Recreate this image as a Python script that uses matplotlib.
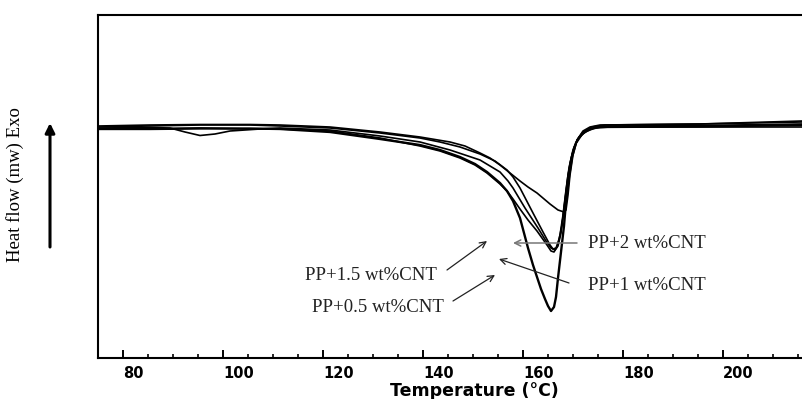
import matplotlib
matplotlib.use('Agg')
import matplotlib.pyplot as plt
from matplotlib.ticker import MultipleLocator

# ---- data (temperature in °C, heat flow in arbitrary units) ----
temp_pp05 = [75.0, 85.4, 95.4, 105.4, 111.4, 121.4, 131.4, 135.4, 139.4, 143.4, 147.4, 150.4,
             152.8, 155.4, 156.8, 158.0, 159.4, 160.2, 161.0, 162.0, 162.8, 163.6, 164.4, 165.0,
             165.6, 166.2, 166.6, 167.0, 167.6, 168.2, 168.6, 169.2, 169.8, 170.6, 171.8, 173.4,
             175.4, 195.4, 215.8]
hf_pp05 = [22.9, 22.9, 22.95, 22.95, 22.9, 22.6, 21.9, 21.6, 21.3, 20.8, 20.1, 19.4,
           18.6, 17.5, 16.7, 15.7, 14.0, 12.5, 11.0, 9.3, 8.1, 6.9, 5.9, 5.2,
           4.7, 5.1, 6.1, 8.0, 10.6, 13.2, 15.6, 18.1, 20.1, 21.5, 22.4, 22.9,
           23.1, 23.15, 23.3]

temp_pp1 = [75.0, 85.4, 95.4, 105.4, 111.4, 121.4, 131.4, 139.4, 143.4, 147.4, 150.4, 152.8,
            155.4, 156.8, 158.0, 159.4, 161.0, 162.8, 164.8, 165.6, 166.2, 166.8, 167.4, 168.0,
            168.6, 169.2, 170.0, 171.0, 172.4, 174.4, 177.4, 195.4, 215.8]
hf_pp1 = [22.9, 22.9, 23.0, 22.9, 22.9, 22.7, 22.0, 21.2, 20.7, 20.0, 19.3, 18.5,
          17.4, 16.7, 15.9, 14.9, 13.8, 12.7, 11.3, 10.7, 10.6, 11.1, 12.3, 14.3,
          16.8, 19.0, 20.8, 21.9, 22.6, 23.0, 23.1, 23.1, 23.1]

temp_pp15 = [75.0, 85.4, 95.4, 105.4, 111.4, 121.4, 131.4, 139.4, 143.4, 147.4, 151.4, 154.4,
             156.8, 158.0, 159.4, 162.0, 164.0, 165.4, 166.0, 166.6, 167.2, 167.8, 168.4, 169.0,
             169.8, 170.8, 172.0, 173.8, 176.4, 195.4, 215.8]
hf_pp15 = [23.1, 23.2, 23.3, 23.3, 23.2, 23.0, 22.5, 22.0, 21.6, 21.1, 20.4, 19.7,
           18.8, 18.1, 17.0, 14.5, 12.6, 11.3, 10.9, 11.0, 11.8, 13.3, 15.8, 18.3,
           20.3, 21.8, 22.6, 23.1, 23.3, 23.4, 23.6]

temp_pp = [75.0, 85.4, 89.4, 92.4, 95.4, 98.4, 101.4, 107.4, 111.4, 121.4, 131.4, 139.4,
           145.4, 148.4, 151.4, 153.4, 155.4, 157.0, 158.0, 160.4, 163.0, 164.6, 165.6, 166.4,
           167.0, 167.6, 168.2, 168.8, 169.4, 170.2, 171.2, 172.6, 174.6, 177.4, 195.4, 215.8]
hf_pp = [23.0, 23.05, 23.0, 22.6, 22.25, 22.4, 22.7, 22.9, 23.0, 22.8, 22.2, 21.6,
         20.8, 20.3, 19.8, 19.2, 18.6, 17.7, 17.0, 15.0, 13.0, 11.7, 11.0, 10.8,
         11.2, 12.5, 14.8, 17.3, 19.5, 21.1, 22.1, 22.7, 23.1, 23.2, 23.25, 23.4]

temp_pp2 = [75.0, 85.4, 95.4, 105.4, 111.4, 121.4, 131.4, 139.4, 145.4, 148.4, 151.4, 153.4,
            155.4, 157.4, 159.4, 161.0, 162.8, 165.4, 167.0, 168.2, 168.6, 169.0, 169.4, 170.0,
            170.8, 172.0, 173.4, 175.4, 195.4, 215.8]
hf_pp2 = [23.2, 23.3, 23.35, 23.35, 23.3, 23.1, 22.6, 22.1, 21.6, 21.2, 20.5, 20.0,
          19.3, 18.5, 17.7, 17.1, 16.5, 15.4, 14.8, 14.6, 14.8, 16.3, 18.3, 20.3,
          21.8, 22.7, 23.1, 23.3, 23.4, 23.7]

tick_values = [80, 100, 120, 140, 160, 180, 200]
tick_labels = ['80', '100', '120', '140', '160', '180', '200']

labels = ['PP+2 wt%CNT', 'PP+1 wt%CNT', 'PP+1.5 wt%CNT', 'PP+0.5 wt%CNT']

# ---- figure ----
fig = plt.figure(figsize=(8.02, 3.99), dpi=100)
ax = fig.add_axes([98 / 802, 41 / 399, 704 / 802, 343 / 399])

for t, h, lw in [(temp_pp05, hf_pp05, 1.7), (temp_pp1, hf_pp1, 1.2), (temp_pp15, hf_pp15, 1.2),
                 (temp_pp, hf_pp, 1.2), (temp_pp2, hf_pp2, 1.2)]:
    ax.plot(t, h, color='black', lw=lw, solid_joinstyle='round', solid_capstyle='round')

ax.set_xlim(75, 215.8)
ax.set_ylim(0, 34.3)

for s in ['left', 'top', 'bottom']:
    ax.spines[s].set_linewidth(1.5)
ax.spines['right'].set_visible(False)

ax.set_yticks([])
ax.set_xticks(tick_values)
ax.set_xticklabels(tick_labels, ha='left', fontweight='bold', fontsize=10.5, family='DejaVu Sans')
ax.xaxis.set_minor_locator(MultipleLocator(5))
ax.tick_params(axis='x', which='major', direction='in', length=6, width=1.4, pad=6)
ax.tick_params(axis='x', which='minor', direction='in', length=3, width=1.2)

ax.set_xlabel('Temperature (°C)', fontweight='bold', fontsize=12.5, family='DejaVu Sans')
ax.xaxis.label.set_va('center')
ax.xaxis.set_label_coords(0.535, -33 / 343)

ax.set_ylabel('Heat flow (mw) Exo', family='Liberation Serif', fontsize=13.5)
ax.yaxis.label.set_va('center')
ax.yaxis.set_label_coords((15 - 98) / 704, (358 - 185) / 343)

# upward arrow beside y label
ax.annotate('', xy=((50 - 98) / 704, (358 - 123) / 343), xytext=((50 - 98) / 704, (358 - 247) / 343),
            xycoords='axes fraction', textcoords='axes fraction', annotation_clip=False,
            arrowprops=dict(arrowstyle='-|>', lw=2.2, color='black', mutation_scale=14,
                            shrinkA=0, shrinkB=0))

# curve labels with arrows
tfont = dict(family='Liberation Serif', fontsize=13.5, color='#222222')
ax.text(173.0, 11.5, labels[0], ha='left', va='center', **tfont)
ax.annotate('', xy=(158.0, 11.5), xytext=(170.8, 11.5),
            arrowprops=dict(arrowstyle='->', lw=1.1, color='#777777', shrinkA=0, shrinkB=0,
                            mutation_scale=11))
ax.text(173.0, 7.3, labels[1], ha='left', va='center', **tfont)
ax.annotate('', xy=(155.2, 9.9), xytext=(169.2, 7.5),
            arrowprops=dict(arrowstyle='->', lw=0.9, color='#222222', shrinkA=0, shrinkB=0,
                            mutation_scale=11))
ax.text(142.8, 8.2, labels[2], ha='right', va='center', **tfont)
ax.annotate('', xy=(152.8, 11.7), xytext=(144.8, 8.8),
            arrowprops=dict(arrowstyle='->', lw=0.9, color='#222222', shrinkA=0, shrinkB=0,
                            mutation_scale=11))
ax.text(144.2, 5.1, labels[3], ha='right', va='center', **tfont)
ax.annotate('', xy=(154.4, 8.3), xytext=(146.0, 5.7),
            arrowprops=dict(arrowstyle='->', lw=0.9, color='#222222', shrinkA=0, shrinkB=0,
                            mutation_scale=11))

fig.savefig('out.png', dpi=100)
